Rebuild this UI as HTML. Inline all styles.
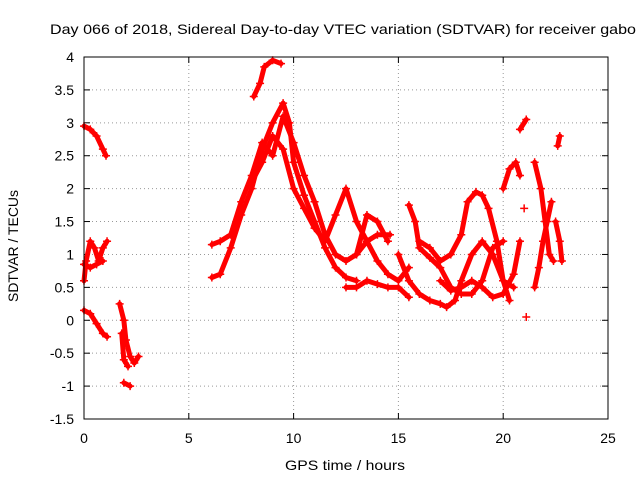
<!DOCTYPE html>
<html><head><meta charset="utf-8"><style>
body{margin:0;background:#fff;}
svg text{font-family:"Liberation Sans",sans-serif;font-size:14px;fill:#000;}
</style></head><body>
<svg id="chart" width="640" height="480">
<text x="343" y="34" text-anchor="middle" textLength="586" lengthAdjust="spacingAndGlyphs">Day 066 of 2018, Sidereal Day-to-day VTEC variation (SDTVAR) for receiver gabo</text>
<g id="grid"></g>
<g id="ticks"></g>
<g id="series"></g>
<rect x="84" y="57" width="524" height="362" fill="none" stroke="#000"/>
<text x="345" y="470" text-anchor="middle" textLength="120" lengthAdjust="spacingAndGlyphs">GPS time / hours</text>
<text transform="translate(18,246) rotate(-90)" text-anchor="middle" textLength="112" lengthAdjust="spacingAndGlyphs">SDTVAR / TECUs</text>
</svg>
<script>
const xTicks=[0,5,10,15,20,25];
const yTicks=[-1.5,-1,-0.5,0,0.5,1,1.5,2,2.5,3,3.5,4];
const tracks=[
[[0,2.95],[0.3,2.9],[0.6,2.8],[0.9,2.6],[1.05,2.5]],
[[0,0.15],[0.3,0.1],[0.6,-0.05],[0.9,-0.2],[1.1,-0.25]],
[[0,0.6],[0.1,0.9],[0.3,1.2],[0.5,1.1],[0.7,0.9],[0.9,1.1],[1.1,1.2]],
[[0,0.85],[0.3,0.8],[0.6,0.85],[0.9,0.9]],
[[1.7,0.25],[1.9,0],[2.0,-0.3],[2.2,-0.55],[2.4,-0.65],[2.6,-0.55]],
[[1.8,-0.2],[1.9,-0.6],[2.1,-0.7]],
[[1.9,-0.95],[2.2,-1.0]],
[[6.1,0.65],[6.5,0.7],[7,1.1],[7.5,1.6],[8,2.0],[8.5,2.6],[9,3.0],[9.5,3.3],[9.8,3.0],[10,2.4],[10.5,1.9],[11,1.5],[11.5,1.1],[12,0.8],[12.5,0.65],[13,0.6]],
[[6.1,1.15],[6.5,1.2],[7,1.3],[7.5,1.8],[8,2.2],[8.5,2.7],[9,2.5],[9.5,3.1],[10,2.7],[10.5,2.2],[11,1.8],[11.5,1.3],[12,1.0],[12.5,0.9],[13,1.0],[13.5,1.2],[14,1.3],[14.6,1.3]],
[[8,2.1],[8.5,2.4],[9,2.8],[9.5,2.6],[10,2.0],[10.5,1.7],[11,1.4],[11.5,1.2],[12,1.6],[12.5,2.0],[13,1.5],[13.5,1.2],[14,0.9],[14.5,0.7],[15,0.6],[15.5,0.8]],
[[8.1,3.4],[8.4,3.6],[8.6,3.85],[9,3.95],[9.4,3.9]],
[[12.5,0.5],[13,0.5],[13.5,0.6],[14,0.55],[14.5,0.5],[15,0.5],[15.5,0.35]],
[[13,1.0],[13.5,1.6],[14,1.5],[14.5,1.2]],
[[15,1.0],[15.5,0.6],[16,0.4],[16.5,0.3],[17,0.25],[17.3,0.2],[17.7,0.3],[18,0.6],[18.5,1.0],[19,1.2],[19.5,1.0],[20,0.6],[20.3,0.3]],
[[15.5,1.75],[15.8,1.5],[16,1.1],[16.5,0.95],[17,0.8],[17.5,0.5],[18,0.4],[18.5,0.4],[19,0.6],[19.5,1.1],[20,1.2]],
[[16,1.2],[16.5,1.1],[17,0.9],[17.5,1.0],[18,1.3],[18.3,1.8],[18.7,1.95],[19,1.9],[19.3,1.7],[19.7,1.2],[20,0.6],[20.5,0.5]],
[[17,0.6],[17.5,0.45],[18,0.5],[18.5,0.6],[19,0.5],[19.5,0.35],[20,0.4],[20.5,0.7],[20.8,1.2]],
[[20,2.0],[20.3,2.3],[20.6,2.4],[20.8,2.2]],
[[20.8,2.9],[21.1,3.05]],
[[21,1.7]],
[[21.5,2.4],[21.8,2.0],[22,1.5],[22.2,1.0],[22.4,0.9]],
[[21.5,0.5],[21.7,0.8],[21.9,1.2],[22.1,1.5],[22.3,1.8]],
[[22.5,1.5],[22.7,1.2],[22.8,0.9]],
[[22.6,2.65],[22.7,2.8]],
[[21.1,0.05]]
];
const NS="http://www.w3.org/2000/svg";
const X0=84,X1=608,Y0=419,Y1=57;
function sx(v){return X0+(v-0)/(25-0)*(X1-X0);}
function sy(v){return Y0-(v+1.5)/(4+1.5)*(Y0-Y1);}
const grid=document.getElementById('grid'),ticks=document.getElementById('ticks'),ser=document.getElementById('series');
xTicks.forEach(t=>{
 const x=sx(t);
 if(t>0&&t<25){const l=document.createElementNS(NS,'line');
 
 
 l.setAttribute('x1',x);l.setAttribute('x2',x);l.setAttribute('y1',Y1);l.setAttribute('y2',Y0);l.setAttribute('stroke','#999');l.setAttribute('stroke-dasharray','1,3');grid.appendChild(l);}
 const tx=document.createElementNS(NS,'text');
 
 
 tx.setAttribute('x',x);tx.setAttribute('y',Y0+24);tx.setAttribute('text-anchor','middle');tx.textContent=t;ticks.appendChild(tx);
 [[Y0,Y0-6],[Y1,Y1+6]].forEach(p=>{const m=document.createElementNS(NS,'line');
 
 
 m.setAttribute('x1',x);m.setAttribute('x2',x);m.setAttribute('y1',p[0]);m.setAttribute('y2',p[1]);m.setAttribute('stroke','#000');ticks.appendChild(m);});
});
yTicks.forEach(t=>{
 const y=sy(t);
 if(t>-1.5&&t<4){const l=document.createElementNS(NS,'line');
 
 
 l.setAttribute('x1',X0);l.setAttribute('x2',X1);l.setAttribute('y1',y);l.setAttribute('y2',y);l.setAttribute('stroke','#999');l.setAttribute('stroke-dasharray','1,3');grid.appendChild(l);}
 const tx=document.createElementNS(NS,'text');
 
 
 tx.setAttribute('x',X0-10);tx.setAttribute('y',y+5);tx.setAttribute('text-anchor','end');tx.textContent=t;ticks.appendChild(tx);
 [[X0,X0+6],[X1,X1-6]].forEach(p=>{const m=document.createElementNS(NS,'line');
 
 
 m.setAttribute('x1',p[0]);m.setAttribute('x2',p[1]);m.setAttribute('y1',y);m.setAttribute('y2',y);m.setAttribute('stroke','#000');ticks.appendChild(m);});
});
tracks.forEach(tr=>{
 const pl=document.createElementNS(NS,'polyline');
 
 
 pl.setAttribute('points',tr.map(p=>sx(p[0])+','+sy(p[1])).join(' '));
 pl.setAttribute('fill','none');pl.setAttribute('stroke','#f00');pl.setAttribute('stroke-width','5');pl.setAttribute('stroke-linejoin','round');pl.setAttribute('stroke-linecap','round');
 ser.appendChild(pl);
 tr.forEach(p=>{
  const x=sx(p[0]),y=sy(p[1]);
  const m=document.createElementNS(NS,'path');
  
  
  m.setAttribute('d',`M${x-4},${y}H${x+4}M${x},${y-4}V${y+4}`);
  m.setAttribute('stroke','#f00');m.setAttribute('stroke-width','1.5');
  ser.appendChild(m);
 });
});
</script>
</body></html>
